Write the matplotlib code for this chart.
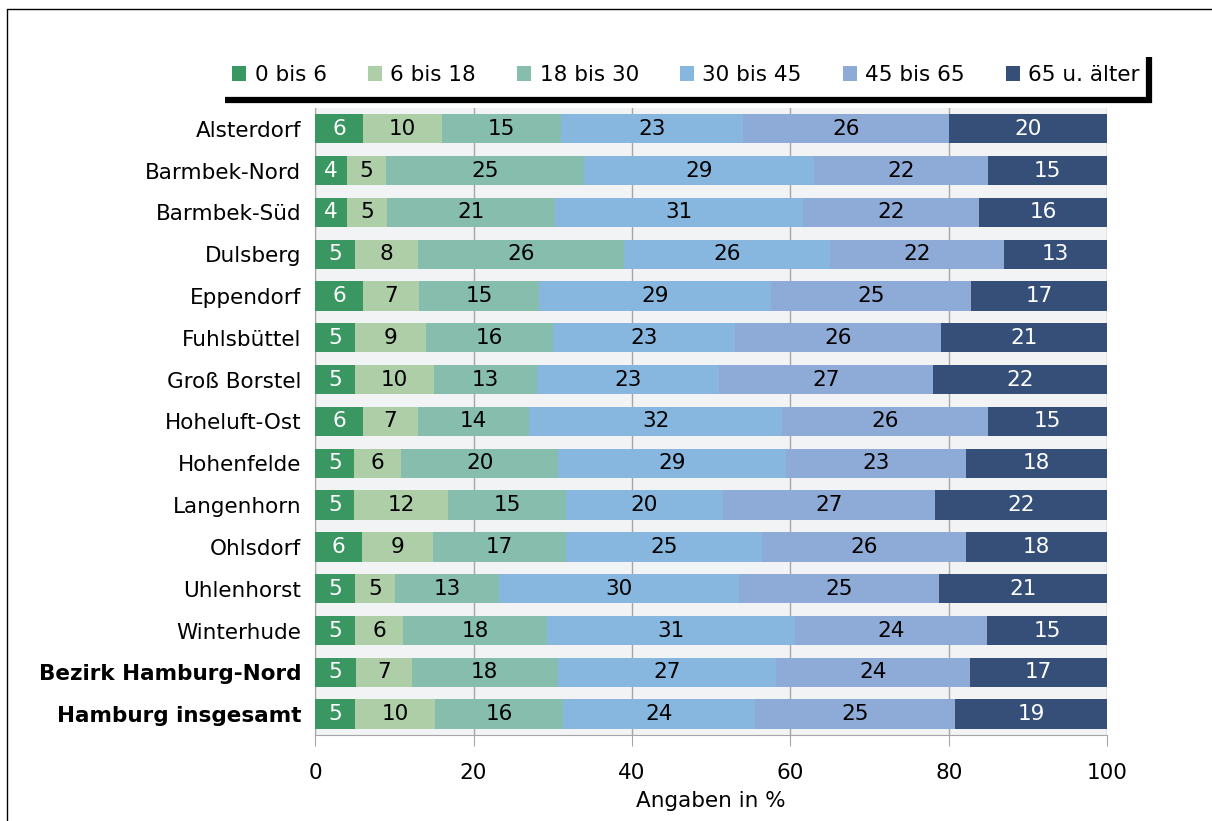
import numpy as np
import matplotlib
matplotlib.use("Agg")
import matplotlib.pyplot as plt
from matplotlib.lines import Line2D

plt.rcParams['font.family'] = ['DejaVu Sans']

# Altersgruppen je Stadtteil, Angaben in %
stadtteile = ["Alsterdorf", "Barmbek-Nord", "Barmbek-Süd", "Dulsberg", "Eppendorf",
              "Fuhlsbüttel", "Groß Borstel", "Hoheluft-Ost", "Hohenfelde", "Langenhorn",
              "Ohlsdorf", "Uhlenhorst", "Winterhude", "Bezirk Hamburg-Nord",
              "Hamburg insgesamt"]
gruppen = ["0 bis 6", "6 bis 18", "18 bis 30", "30 bis 45", "45 bis 65", "65 u. älter"]

bis6 = [6, 4, 4, 5, 6, 5, 5, 6, 5, 5, 6, 5, 5, 5, 5]
bis18 = [10, 5, 5, 8, 7, 9, 10, 7, 6, 12, 9, 5, 6, 7, 10]
bis30 = [15, 25, 21, 26, 15, 16, 13, 14, 20, 15, 17, 13, 18, 18, 16]
bis45 = [23, 29, 31, 26, 29, 23, 23, 32, 29, 20, 25, 30, 31, 27, 24]
bis65 = [26, 22, 22, 22, 25, 26, 27, 26, 23, 27, 26, 25, 24, 24, 25]
ab65 = [20, 15, 16, 13, 17, 21, 22, 15, 18, 22, 18, 21, 15, 17, 19]

farben = ["#3a9762", "#aecea8", "#86bdac", "#87b7de", "#8eaad6", "#364f79"]
textfarben = ["white", "black", "black", "black", "black", "white"]

werte = np.array([bis6, bis18, bis30, bis45, bis65, ab65], dtype=float)
anteile = werte / werte.sum(axis=0) * 100  # 100%-gestapelt

fig = plt.figure(figsize=(12.12, 8.21), dpi=100)
ax = fig.add_axes([0.26, 0.1047, 0.6535, 0.764])
ax.set_facecolor("#f2f3f5")

y = np.arange(len(stadtteile))
links = np.zeros(len(stadtteile))
for i, g in enumerate(gruppen):
    ax.barh(y, anteile[i], left=links, height=0.7, color=farben[i], label=g, zorder=3)
    for j in range(len(stadtteile)):
        ax.text(links[j] + anteile[i][j] / 2, y[j], f"{int(werte[i][j])}",
                ha="center", va="center", fontsize=15.5, color=textfarben[i], zorder=4)
    links += anteile[i]

ax.set_xlim(0, 100)
ax.set_ylim(len(stadtteile) - 0.5, -0.5)
ax.set_xticks([0, 20, 40, 60, 80, 100])
ax.xaxis.grid(True, color="#a6a6a6", linewidth=1, zorder=1)
ax.set_yticks(y)
ax.set_yticklabels(stadtteile, fontsize=15.5)
for lbl in ax.get_yticklabels()[-2:]:
    lbl.set_fontweight("bold")
ax.tick_params(axis="y", length=0, pad=10)
ax.tick_params(axis="x", length=8, color="#a6a6a6", labelsize=15.5, pad=12)
for s in ["top", "right"]:
    ax.spines[s].set_visible(False)
for s in ["left", "bottom"]:
    ax.spines[s].set_color("#a6a6a6")
ax.set_xlabel("Angaben in %", fontsize=15.5, labelpad=6)

# Legende mit schwarzem Schattenrand unten und rechts
leg = fig.legend(loc="center", bbox_to_anchor=(686 / 1212, 1 - 75 / 821), ncol=6,
                 fontsize=15.5, frameon=False, handlelength=0.65, handleheight=0.65,
                 handletextpad=0.4, columnspacing=1.9)
fig.add_artist(Line2D([225 / 1212, 1152 / 1212], [1 - 100 / 821, 1 - 100 / 821],
                      transform=fig.transFigure, color="black", linewidth=4.5,
                      solid_capstyle="butt"))
fig.add_artist(Line2D([1149 / 1212, 1149 / 1212], [1 - 57 / 821, 1 - 103 / 821],
                      transform=fig.transFigure, color="black", linewidth=4.5,
                      solid_capstyle="butt"))

# Rahmen um das Diagramm
fig.add_artist(Line2D([7 / 1212, 7 / 1212, 1.0], [0.0, 1 - 9 / 821, 1 - 9 / 821],
                      transform=fig.transFigure, color="black", linewidth=1))

fig.savefig("out.png", dpi=100)
